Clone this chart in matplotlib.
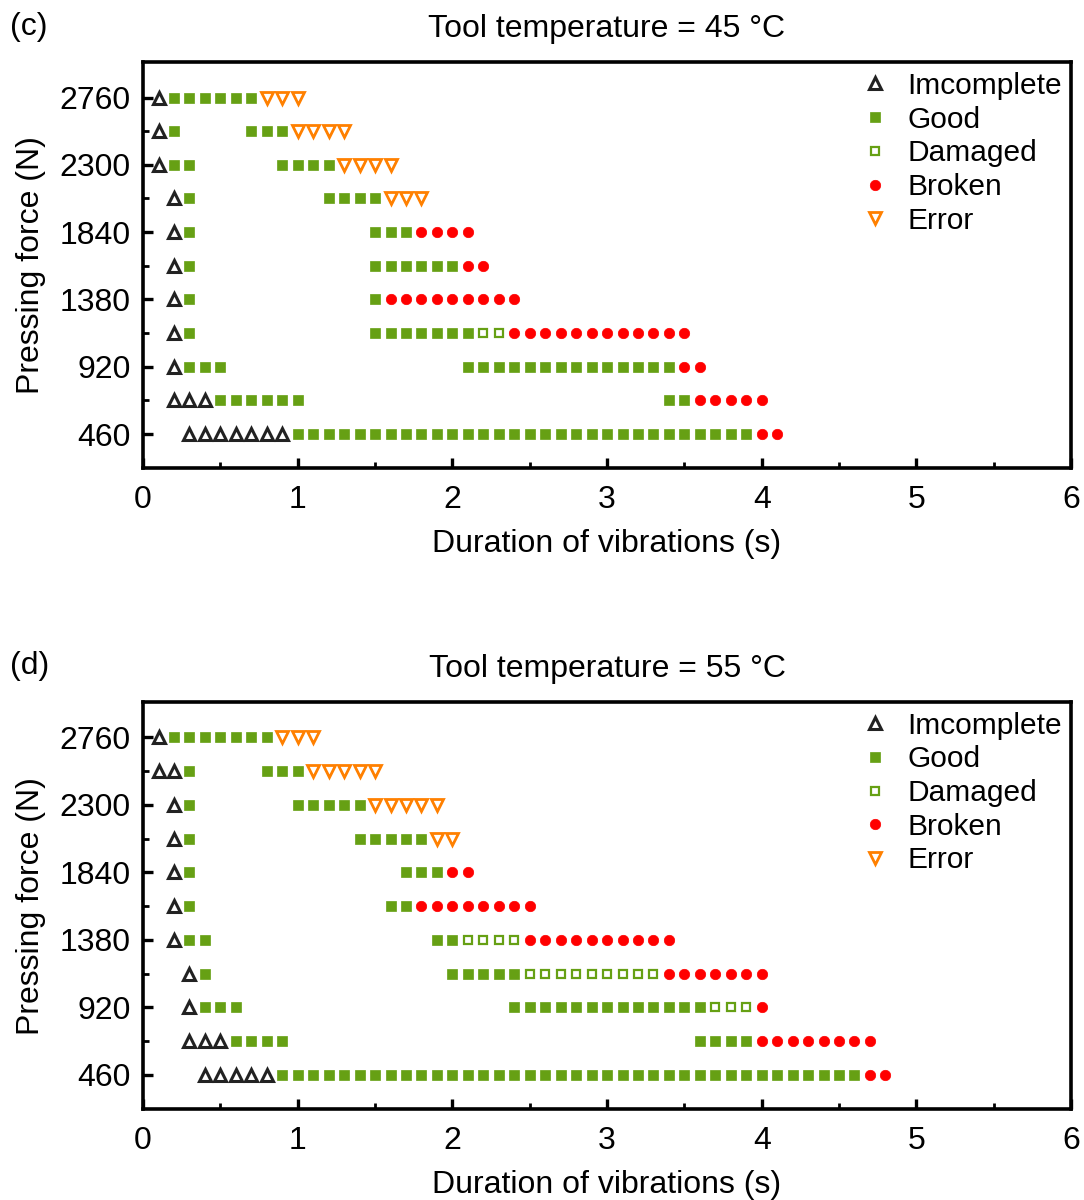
import matplotlib.pyplot as plt
from matplotlib.ticker import MultipleLocator

# 字体：Arial 风格
plt.rcParams['font.family'] = ['Liberation Sans', 'DejaVu Sans']
plt.rcParams['font.size'] = 23

# 压力分档（从下到上）
forces = [460, 690, 920, 1150, 1380, 1610, 1840, 2070, 2300, 2530, 2760]

# ---------- (c) 45 °C：每一行的振动时长 (s) ----------
c_incomplete = [
    [0.3, 0.4, 0.5, 0.6, 0.7, 0.8, 0.9],
    [0.2, 0.3, 0.4],
    [0.2], [0.2], [0.2], [0.2], [0.2], [0.2],
    [0.1], [0.1], [0.1],
]
c_good = [
    [1.0, 1.1, 1.2, 1.3, 1.4, 1.5, 1.6, 1.7, 1.8, 1.9, 2.0, 2.1, 2.2, 2.3, 2.4,
     2.5, 2.6, 2.7, 2.8, 2.9, 3.0, 3.1, 3.2, 3.3, 3.4, 3.5, 3.6, 3.7, 3.8, 3.9],
    [0.5, 0.6, 0.7, 0.8, 0.9, 1.0, 3.4, 3.5],
    [0.3, 0.4, 0.5, 2.1, 2.2, 2.3, 2.4, 2.5, 2.6, 2.7, 2.8, 2.9, 3.0, 3.1, 3.2, 3.3, 3.4],
    [0.3, 1.5, 1.6, 1.7, 1.8, 1.9, 2.0, 2.1],
    [0.3, 1.5],
    [0.3, 1.5, 1.6, 1.7, 1.8, 1.9, 2.0],
    [0.3, 1.5, 1.6, 1.7],
    [0.3, 1.2, 1.3, 1.4, 1.5],
    [0.2, 0.3, 0.9, 1.0, 1.1, 1.2],
    [0.2, 0.7, 0.8, 0.9],
    [0.2, 0.3, 0.4, 0.5, 0.6, 0.7],
]
c_damaged = [[], [], [], [2.2, 2.3], [], [], [], [], [], [], []]
c_broken = [
    [4.0, 4.1],
    [3.6, 3.7, 3.8, 3.9, 4.0],
    [3.5, 3.6],
    [2.4, 2.5, 2.6, 2.7, 2.8, 2.9, 3.0, 3.1, 3.2, 3.3, 3.4, 3.5],
    [1.6, 1.7, 1.8, 1.9, 2.0, 2.1, 2.2, 2.3, 2.4],
    [2.1, 2.2],
    [1.8, 1.9, 2.0, 2.1],
    [], [], [], [],
]
c_error = [
    [], [], [], [], [], [], [],
    [1.6, 1.7, 1.8],
    [1.3, 1.4, 1.5, 1.6],
    [1.0, 1.1, 1.2, 1.3],
    [0.8, 0.9, 1.0],
]

# ---------- (d) 55 °C ----------
d_incomplete = [
    [0.4, 0.5, 0.6, 0.7, 0.8],
    [0.3, 0.4, 0.5],
    [0.3], [0.3],
    [0.2], [0.2], [0.2], [0.2], [0.2],
    [0.1, 0.2],
    [0.1],
]
d_good = [
    [0.9, 1.0, 1.1, 1.2, 1.3, 1.4, 1.5, 1.6, 1.7, 1.8, 1.9, 2.0, 2.1, 2.2, 2.3,
     2.4, 2.5, 2.6, 2.7, 2.8, 2.9, 3.0, 3.1, 3.2, 3.3, 3.4, 3.5, 3.6, 3.7, 3.8,
     3.9, 4.0, 4.1, 4.2, 4.3, 4.4, 4.5, 4.6],
    [0.6, 0.7, 0.8, 0.9, 3.6, 3.7, 3.8, 3.9],
    [0.4, 0.5, 0.6, 2.4, 2.5, 2.6, 2.7, 2.8, 2.9, 3.0, 3.1, 3.2, 3.3, 3.4, 3.5, 3.6],
    [0.4, 2.0, 2.1, 2.2, 2.3, 2.4],
    [0.3, 0.4, 1.9, 2.0],
    [0.3, 1.6, 1.7],
    [0.3, 1.7, 1.8, 1.9],
    [0.3, 1.4, 1.5, 1.6, 1.7, 1.8],
    [0.3, 1.0, 1.1, 1.2, 1.3, 1.4],
    [0.3, 0.8, 0.9, 1.0],
    [0.2, 0.3, 0.4, 0.5, 0.6, 0.7, 0.8],
]
d_damaged = [
    [], [],
    [3.7, 3.8, 3.9],
    [2.5, 2.6, 2.7, 2.8, 2.9, 3.0, 3.1, 3.2, 3.3],
    [2.1, 2.2, 2.3, 2.4],
    [], [], [], [], [], [],
]
d_broken = [
    [4.7, 4.8],
    [4.0, 4.1, 4.2, 4.3, 4.4, 4.5, 4.6, 4.7],
    [4.0],
    [3.4, 3.5, 3.6, 3.7, 3.8, 3.9, 4.0],
    [2.5, 2.6, 2.7, 2.8, 2.9, 3.0, 3.1, 3.2, 3.3, 3.4],
    [1.8, 1.9, 2.0, 2.1, 2.2, 2.3, 2.4, 2.5],
    [2.0, 2.1],
    [], [], [], [],
]
d_error = [
    [], [], [], [], [], [], [],
    [1.9, 2.0],
    [1.5, 1.6, 1.7, 1.8, 1.9],
    [1.1, 1.2, 1.3, 1.4, 1.5],
    [0.9, 1.0, 1.1],
]

labels = ['Imcomplete', 'Good', 'Damaged', 'Broken', 'Error']

green = '#66A014'
# 各类别的点样式
styles = [
    dict(marker='^', ms=8, mfc='white', mec='#222222', mew=2.2),
    dict(marker='s', ms=6.5, mfc=green, mec=green, mew=0.5),
    dict(marker='s', ms=6, mfc='white', mec=green, mew=1.6),
    dict(marker='o', ms=7.5, mfc='#FF0000', mec='#FF0000', mew=0.5),
    dict(marker='v', ms=8, mfc='white', mec='#FF8000', mew=2.0),
]


def draw_panel(ax, groups, title, tag):
    for rows, lab, st in zip(groups, labels, styles):
        xs, ys = [], []
        for f, durs in zip(forces, rows):
            xs += durs
            ys += [f] * len(durs)
        ax.plot(xs, ys, linestyle='none', label=lab, **st)

    ax.set_xlim(0, 6)
    ax.set_ylim(228, 3000)
    ax.xaxis.set_major_locator(MultipleLocator(1))
    ax.xaxis.set_minor_locator(MultipleLocator(0.5))
    ax.set_yticks(forces[::2])
    ax.set_yticks(forces[1::2], minor=True)
    ax.tick_params(which='major', direction='in', length=7, width=2.4)
    ax.tick_params(axis='x', which='major', pad=12)
    ax.tick_params(axis='y', which='major', pad=9)
    ax.tick_params(which='minor', direction='in', length=4, width=2.0)
    for sp in ax.spines.values():
        sp.set_linewidth(2.6)

    ax.set_xlabel('Duration of vibrations (s)', labelpad=10)
    ax.set_ylabel('Pressing force (N)', labelpad=10)
    ax.set_title(title, pad=18, fontsize=23)
    ax.text(-0.143, 1.088, tag, transform=ax.transAxes, ha='left', va='center')

    ax.legend(loc='upper right', bbox_to_anchor=(1.013, 1.028), frameon=False,
              handlelength=0.9, handletextpad=0.65, labelspacing=0.19,
              borderaxespad=0.3, fontsize=21.5)


fig = plt.figure(figsize=(10.84, 12), dpi=100)
ax1 = fig.add_axes([0.132, 0.61, 0.856, 0.338])
ax2 = fig.add_axes([0.132, 0.0758, 0.856, 0.339])

draw_panel(ax1, [c_incomplete, c_good, c_damaged, c_broken, c_error],
           'Tool temperature = 45 °C', '(c)')
draw_panel(ax2, [d_incomplete, d_good, d_damaged, d_broken, d_error],
           'Tool temperature = 55 °C', '(d)')

fig.savefig('out.png', dpi=100)
